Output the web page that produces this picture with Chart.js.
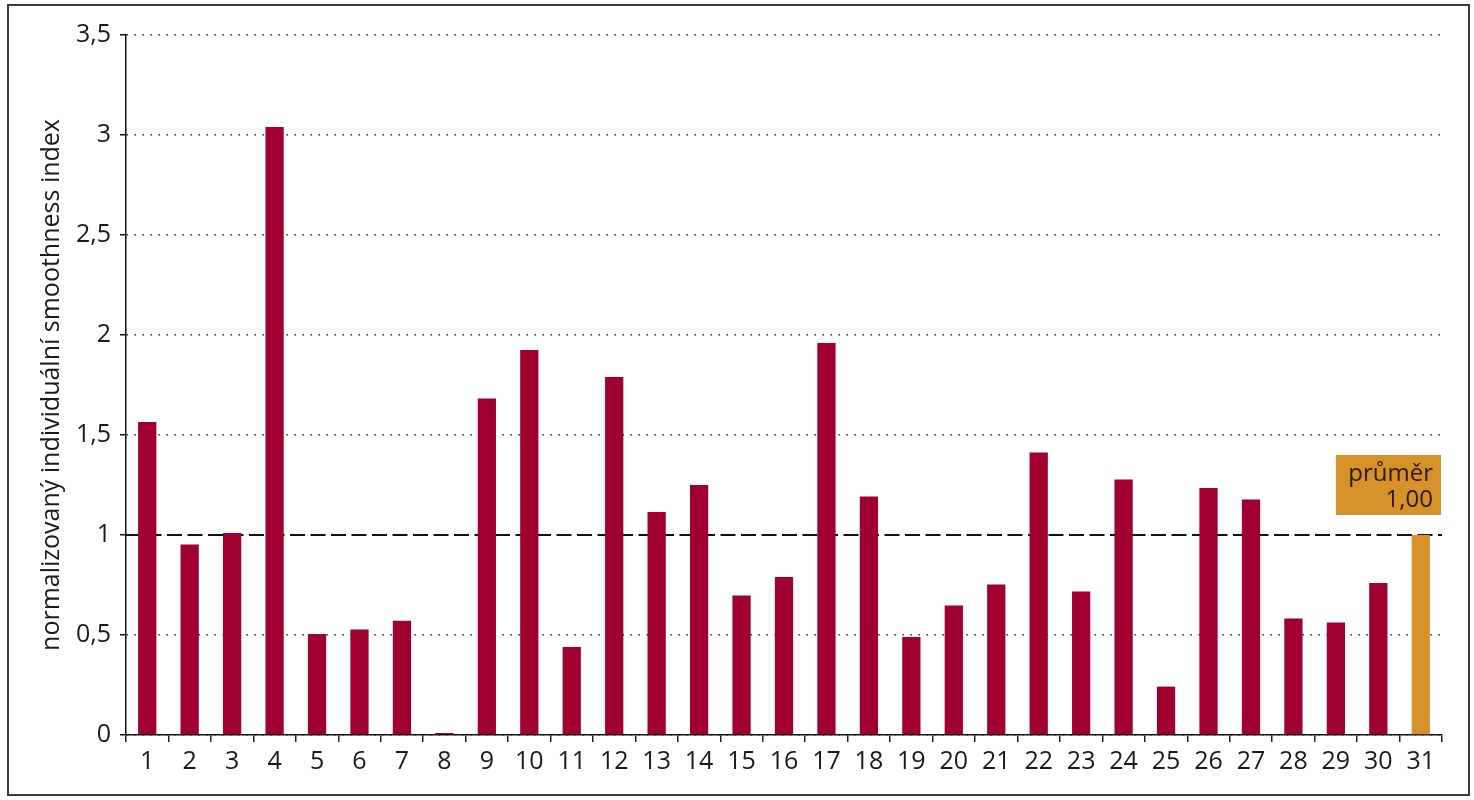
<!DOCTYPE html>
<html>
<head>
<meta charset="utf-8">
<script src="https://cdn.jsdelivr.net/npm/chart.js@4/dist/chart.umd.min.js"></script>
<style>
  html, body { margin: 0; padding: 0; background: #fff; }
  #wrap { position: relative; width: 1474px; height: 800px; }
  #frame { position: absolute; left: 7px; top: 4px; width: 1459px; height: 788px; border: 2px solid #3c3c3c; pointer-events: none; }
  canvas { position: absolute; left: 0; top: 0; }
</style>
</head>
<body>
<div id="wrap">
  <canvas id="c" width="1474" height="800"></canvas>
  <div id="frame"></div>
</div>
<script>
const categories = ['1','2','3','4','5','6','7','8','9','10','11','12','13','14','15','16','17','18','19','20','21','22','23','24','25','26','27','28','29','30','31'];
const values = [1.565, 0.953, 1.01, 3.04, 0.505, 0.528, 0.571, 0.01, 1.683, 1.925, 0.44, 1.79, 1.115, 1.25, 0.697, 0.79, 1.96, 1.193, 0.49, 0.647, 0.753, 1.413, 0.717, 1.278, 0.242, 1.235, 1.178, 0.583, 0.563, 0.76, 1.0];
const meanValue = 1.0;
const meanLabel = ['průměr', '1,00'];
const yTitle = 'normalizovaný individuální smoothness index';

const barColor = '#a0002f';
const meanColor = '#d6912b';
const colors = categories.map((c, i) => i === categories.length - 1 ? meanColor : barColor);

const FONT = '"Open Sans", "DejaVu Sans", sans-serif';

const meanPlugin = {
  id: 'meanPlugin',
  beforeDatasetsDraw(chart) {
    const {ctx, chartArea, scales} = chart;
    const y = scales.y.getPixelForValue(meanValue);
    ctx.save();
    ctx.strokeStyle = '#111';
    ctx.lineWidth = 1.8;
    ctx.setLineDash([15, 5.5]);
    ctx.beginPath();
    ctx.moveTo(chartArea.left, y);
    ctx.lineTo(chartArea.right, y);
    ctx.stroke();
    ctx.restore();
  },
  afterDatasetsDraw(chart) {
    const {ctx, chartArea, scales} = chart;
    const x0 = scales.x.getPixelForValue(categories.length - 3);
    const x1 = chartArea.right - 1;
    const yTop = scales.y.getPixelForValue(1.4);
    const yBot = scales.y.getPixelForValue(1.1);
    ctx.save();
    ctx.fillStyle = meanColor;
    ctx.fillRect(x0, yTop, x1 - x0, yBot - yTop);
    ctx.fillStyle = '#2a1a08';
    ctx.font = '24px ' + FONT;
    ctx.textAlign = 'right';
    ctx.textBaseline = 'alphabetic';
    ctx.fillText(meanLabel[0], x1 - 8, yTop + 26);
    ctx.fillText(meanLabel[1], x1 - 8, yTop + 52);
    ctx.restore();
  }
};

new Chart(document.getElementById('c'), {
  type: 'bar',
  data: {
    labels: categories,
    datasets: [{
      data: values,
      backgroundColor: colors,
      borderWidth: 0,
      barPercentage: 0.43,
      categoryPercentage: 1.0
    }]
  },
  options: {
    responsive: false,
    devicePixelRatio: 1,
    animation: false,
    layout: { padding: { left: 0, right: 32, top: 35, bottom: 0 } },
    plugins: { legend: { display: false }, tooltip: { enabled: false } },
    scales: {
      x: {
        afterFit(s) { s.height = 65; },
        grid: { display: true, drawOnChartArea: false, drawTicks: true, tickLength: 7, color: '#222', lineWidth: 1.5, offset: true },
        border: { display: true, color: '#111', width: 1.5 },
        ticks: { color: '#1a1a1a', font: { family: FONT, size: 25 }, padding: 5, maxRotation: 0, autoSkip: false }
      },
      y: {
        min: 0,
        max: 3.5,
        afterFit(s) { s.width = 126; },
        grid: {
          display: true, drawOnChartArea: true, drawTicks: true, tickLength: 6,
          color: (c) => (c.tick && c.tick.value === meanValue) ? 'rgba(0,0,0,0)' : '#333',
          lineWidth: 1.5, tickColor: '#111', tickWidth: 1.5, tickBorderDash: []
        },
        border: { display: true, color: '#111', width: 1.5, dash: [1.5, 6.5] },
        ticks: {
          stepSize: 0.5,
          color: '#1a1a1a',
          font: { family: FONT, size: 25 },
          padding: 9,
          callback: (v) => String(v).replace('.', ',')
        },
        title: {
          display: true,
          text: yTitle,
          color: '#1a1a1a',
          font: { family: FONT, size: 25 },
          padding: { top: 37, bottom: 0 }
        }
      }
    }
  },
  plugins: [meanPlugin]
});
</script>
</body>
</html>
